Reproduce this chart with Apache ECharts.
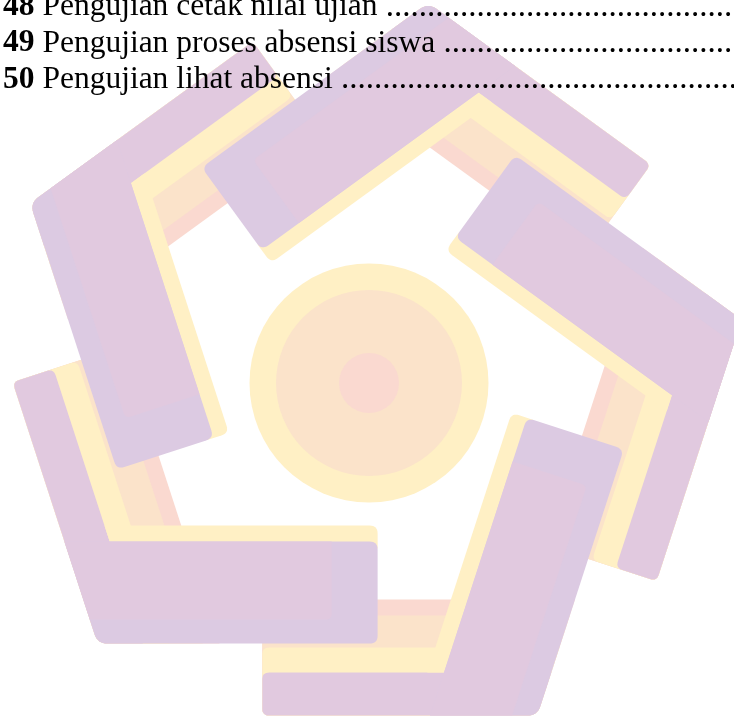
<!DOCTYPE html>
<html><head><meta charset="utf-8">
<script src="https://cdn.jsdelivr.net/npm/echarts@6/dist/echarts.min.js"></script>
<style>html,body{margin:0;padding:0;background:#fff}#c{width:734px;height:719px}</style>
</head><body><div id="c"></div>
<script>
// ---------- text rows ----------
const rowNumbers = ['48', '49', '50'];
const rowTitles = ['Pengujian cetak nilai ujian', 'Pengujian proses absensi siswa', 'Pengujian lihat absensi'];

// ---------- watermark logo ----------
// five chevrons; rotation of each one relative to the top chevron (degrees)
const chevronNames = ['left', 'top', 'right', 'bottom-right', 'bottom-left'];
const chevronRotations = [-72, 0, 72, 144, 216];
// short arm bands: width from the outer edge (drawn widest first)
const shortArmBandWidths = [116, 100, 68, 43];
// long arm parts: yellow edge strip, lavender body, pink inset
const longArmParts = ['yellow', 'lavender', 'pink'];
// centre circles (radius)
const circleRadii = [119.5, 93, 30];

// ---------- styles / layout constants ----------
const COL = { pink: '#E1C9DF', lavender: '#DCCAE2', yellow: '#FFF0C5', peach: '#FBE3CA', salmon: '#FAD9D0' };
const shortArmColors = [COL.salmon, COL.peach, COL.yellow, COL.pink];
const circleColors = [COL.yellow, COL.peach, COL.salmon];
const LOGO_C = [367, 377], APEX_R = 379, APEX_ANG = -80.7;
const SHORT_LEN = 275, LONG_LEN = 280;
const CIRCLE_C = [369, 383];
const deg = Math.PI / 180;

function geom(i) {
  const rot = chevronRotations[i];
  const a = (APEX_ANG + rot) * deg;
  const P = [LOGO_C[0] + APEX_R * Math.cos(a), LOGO_C[1] + APEX_R * Math.sin(a)];
  const ta = (36 + rot) * deg, wa = (144 + rot) * deg;
  const t = [Math.cos(ta), Math.sin(ta)], w = [Math.cos(wa), Math.sin(wa)];
  return { P, t, w, Nt: [-t[1], t[0]], Nw: [w[1], -w[0]] };
}
function ptN(g, nw, nt) {
  const det = g.Nw[0] * g.Nt[1] - g.Nw[1] * g.Nt[0];
  const x0 = (nw * g.Nt[1] - g.Nw[1] * nt) / det;
  const x1 = (g.Nw[0] * nt - nw * g.Nt[0]) / det;
  return [g.P[0] + x0, g.P[1] + x1];
}
function shortPt(g, s, n) { return [g.P[0] + s * g.t[0] + n * g.Nt[0], g.P[1] + s * g.t[1] + n * g.Nt[1]]; }
function longPt(g, s, n) { return [g.P[0] + s * g.w[0] + n * g.Nw[0], g.P[1] + s * g.w[1] + n * g.Nw[1]]; }
function roundPoly(pts, radii) {
  const out = [], n = pts.length;
  for (let i = 0; i < n; i++) {
    const P = pts[i], A = pts[(i - 1 + n) % n], B = pts[(i + 1) % n], r = radii[i];
    if (!r) { out.push(P); continue; }
    const la = Math.hypot(A[0] - P[0], A[1] - P[1]), lb = Math.hypot(B[0] - P[0], B[1] - P[1]);
    const rr = Math.min(r, la / 2, lb / 2);
    const p1 = [P[0] + (A[0] - P[0]) / la * rr, P[1] + (A[1] - P[1]) / la * rr];
    const p2 = [P[0] + (B[0] - P[0]) / lb * rr, P[1] + (B[1] - P[1]) / lb * rr];
    for (let k = 0; k <= 8; k++) {
      const u = k / 8;
      out.push([(1 - u) * (1 - u) * p1[0] + 2 * (1 - u) * u * P[0] + u * u * p2[0],
                (1 - u) * (1 - u) * p1[1] + 2 * (1 - u) * u * P[1] + u * u * p2[1]]);
    }
  }
  return out;
}

const shortData = [], longData = [];
chevronRotations.forEach((r, i) => {
  shortArmBandWidths.forEach((w, j) => shortData.push([i, j]));
  longArmParts.forEach((p, j) => longData.push([i, j]));
});
const circleData = circleRadii.map((r, k) => [k, r]);

function renderShort(params, api) {
  const i = api.value(0), j = api.value(1), g = geom(i), W = shortArmBandWidths[j];
  const pts = roundPoly([g.P, shortPt(g, SHORT_LEN, 0), shortPt(g, SHORT_LEN, W), ptN(g, 0, W)], [10, 7, 7, 0]);
  return { type: 'polygon', shape: { points: pts.map(p => api.coord(p)) }, style: { fill: shortArmColors[j] }, z2: j };
}
function renderLong(params, api) {
  const i = api.value(0), j = api.value(1), g = geom(i);
  let pts, fill;
  if (j === 0) {
    pts = roundPoly([ptN(g, 95, 43), ptN(g, 118, 43), longPt(g, LONG_LEN, 118), longPt(g, LONG_LEN, 95)], [0, 0, 8, 0]);
    fill = COL.yellow;
  } else if (j === 1) {
    pts = roundPoly([g.P, ptN(g, 102, 0), longPt(g, LONG_LEN, 102), longPt(g, LONG_LEN, 0)], [10, 0, 8, 8]);
    fill = COL.lavender;
  } else {
    pts = roundPoly([ptN(g, 24, 0), ptN(g, 102, 0), longPt(g, LONG_LEN - 46, 102), longPt(g, LONG_LEN - 46, 24)], [0, 0, 0, 6]);
    fill = COL.pink;
  }
  return { type: 'polygon', shape: { points: pts.map(p => api.coord(p)) }, style: { fill }, z2: j };
}
function renderCircle(params, api) {
  const k = api.value(0), r = api.value(1);
  const c = api.coord(CIRCLE_C);
  const rp = api.size([r, r])[0];
  return { type: 'circle', shape: { cx: c[0], cy: c[1], r: rp }, style: { fill: circleColors[k] }, z2: k };
}

const FONT = '"Liberation Serif", "Times New Roman", serif';
const FS = 31.5, FS_DOT = 33;
const dots = '.'.repeat(60);
const textEls = rowNumbers.map((num, k) => ({
  type: 'text', x: 3, y: 17.5 + k * 36.4 - 10.6, z: 100,
  style: {
    text: '{b|' + num + '}{r| ' + rowTitles[k] + '}{d| ' + dots + '}',
    fill: '#000', verticalAlign: 'middle', align: 'left',
    font: FS + 'px ' + FONT,
    rich: {
      b: { font: 'bold ' + FS + 'px ' + FONT, fill: '#000', lineHeight: 36 },
      r: { font: FS + 'px ' + FONT, fill: '#000', lineHeight: 36 },
      d: { font: FS_DOT + 'px ' + FONT, fill: '#000', lineHeight: 36 }
    }
  }
}));

const chart = echarts.init(document.getElementById('c'), null, { renderer: 'canvas' });
chart.setOption({
  animation: false,
  backgroundColor: '#fff',
  grid: { left: 0, right: 0, top: 0, bottom: 0 },
  xAxis: { type: 'value', min: 0, max: 734, show: false },
  yAxis: { type: 'value', min: 0, max: 719, inverse: true, show: false },
  series: [
    { type: 'custom', name: 'short arms', data: shortData, renderItem: renderShort, z: 1, clip: false, silent: true },
    { type: 'custom', name: 'long arms', data: longData, renderItem: renderLong, z: 2, clip: false, silent: true },
    { type: 'custom', name: 'circles', data: circleData, renderItem: renderCircle, z: 3, clip: false, silent: true }
  ],
  graphic: { elements: textEls }
});
</script></body></html>
